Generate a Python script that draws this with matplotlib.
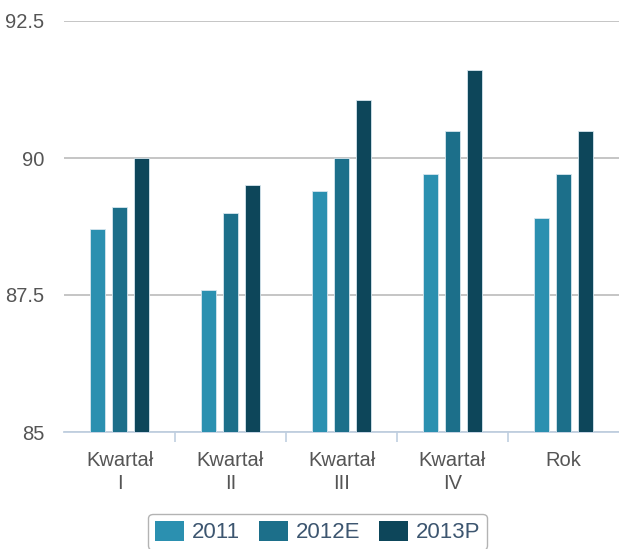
import numpy as np
import matplotlib.pyplot as plt

categories = ['Kwartał\nI', 'Kwartał\nII', 'Kwartał\nIII', 'Kwartał\nIV', 'Rok']
series_names = ['2011', '2012E', '2013P']
values_2011 = [88.7, 87.6, 89.4, 89.7, 88.9]
values_2012 = [89.1, 89.0, 90.0, 90.5, 89.7]
values_2013 = [90.0, 89.5, 91.05, 91.6, 90.5]
colors = ['#2b90b0', '#1c6f8a', '#0d465a']

plt.rcParams['font.family'] = ['Liberation Sans', 'DejaVu Sans']

fig = plt.figure(figsize=(6.19, 5.49), dpi=100)
W, H = 619, 549
ax = fig.add_axes([64 / W, 1 - 432 / H, (619 - 64) / W, (432 - 21) / H])

x = np.arange(len(categories))
all_vals = [values_2011, values_2012, values_2013]
handles = []
for i, (vals, c) in enumerate(zip(all_vals, colors)):
    bars = ax.bar(x + (i - 1) * 0.2, np.array(vals) - 85, bottom=85, width=0.13,
                  color=c, edgecolor='#d6e6ee', linewidth=0.6, zorder=3)
    handles.append(bars)

ax.set_xlim(-0.5, len(categories) - 0.5)
ax.set_ylim(85, 92.5)
ax.set_yticks([85, 87.5, 90, 92.5])
ax.set_yticklabels(['85', '87.5', '90', '92.5'])
ax.yaxis.grid(True, color='#c0c0c0', linewidth=1.3, zorder=0)
ax.tick_params(axis='y', length=0, pad=14, labelsize=14.5, labelcolor='#555555')

# category labels between separator ticks
ax.set_xticks(x)
ax.set_xticklabels(categories, linespacing=1.25)
ax.tick_params(axis='x', length=0, pad=14, labelsize=14.5, labelcolor='#555555')
ax.set_xticks(np.arange(0.5, len(categories) - 0.5), minor=True)
ax.tick_params(axis='x', which='minor', length=7, width=1.2, color='#c0cfe0')

for s in ['top', 'right', 'left']:
    ax.spines[s].set_visible(False)
ax.spines['bottom'].set_color('#c0cfe0')
ax.spines['bottom'].set_linewidth(1.3)

leg = fig.legend(handles, series_names, loc='upper center', bbox_to_anchor=(0.513, 1 - 514 / H),
                 ncol=3, frameon=True, fancybox=True, fontsize=16,
                 handlelength=1.3, handleheight=1.0, handletextpad=0.35,
                 columnspacing=0.85, borderpad=0.3, borderaxespad=0,
                 edgecolor='#a0a0a0', labelcolor='#3d5670')
leg.get_frame().set_linewidth(1.0)
for h in leg.legend_handles:
    h.set_edgecolor('none')

fig.savefig('out.png', dpi=100)
